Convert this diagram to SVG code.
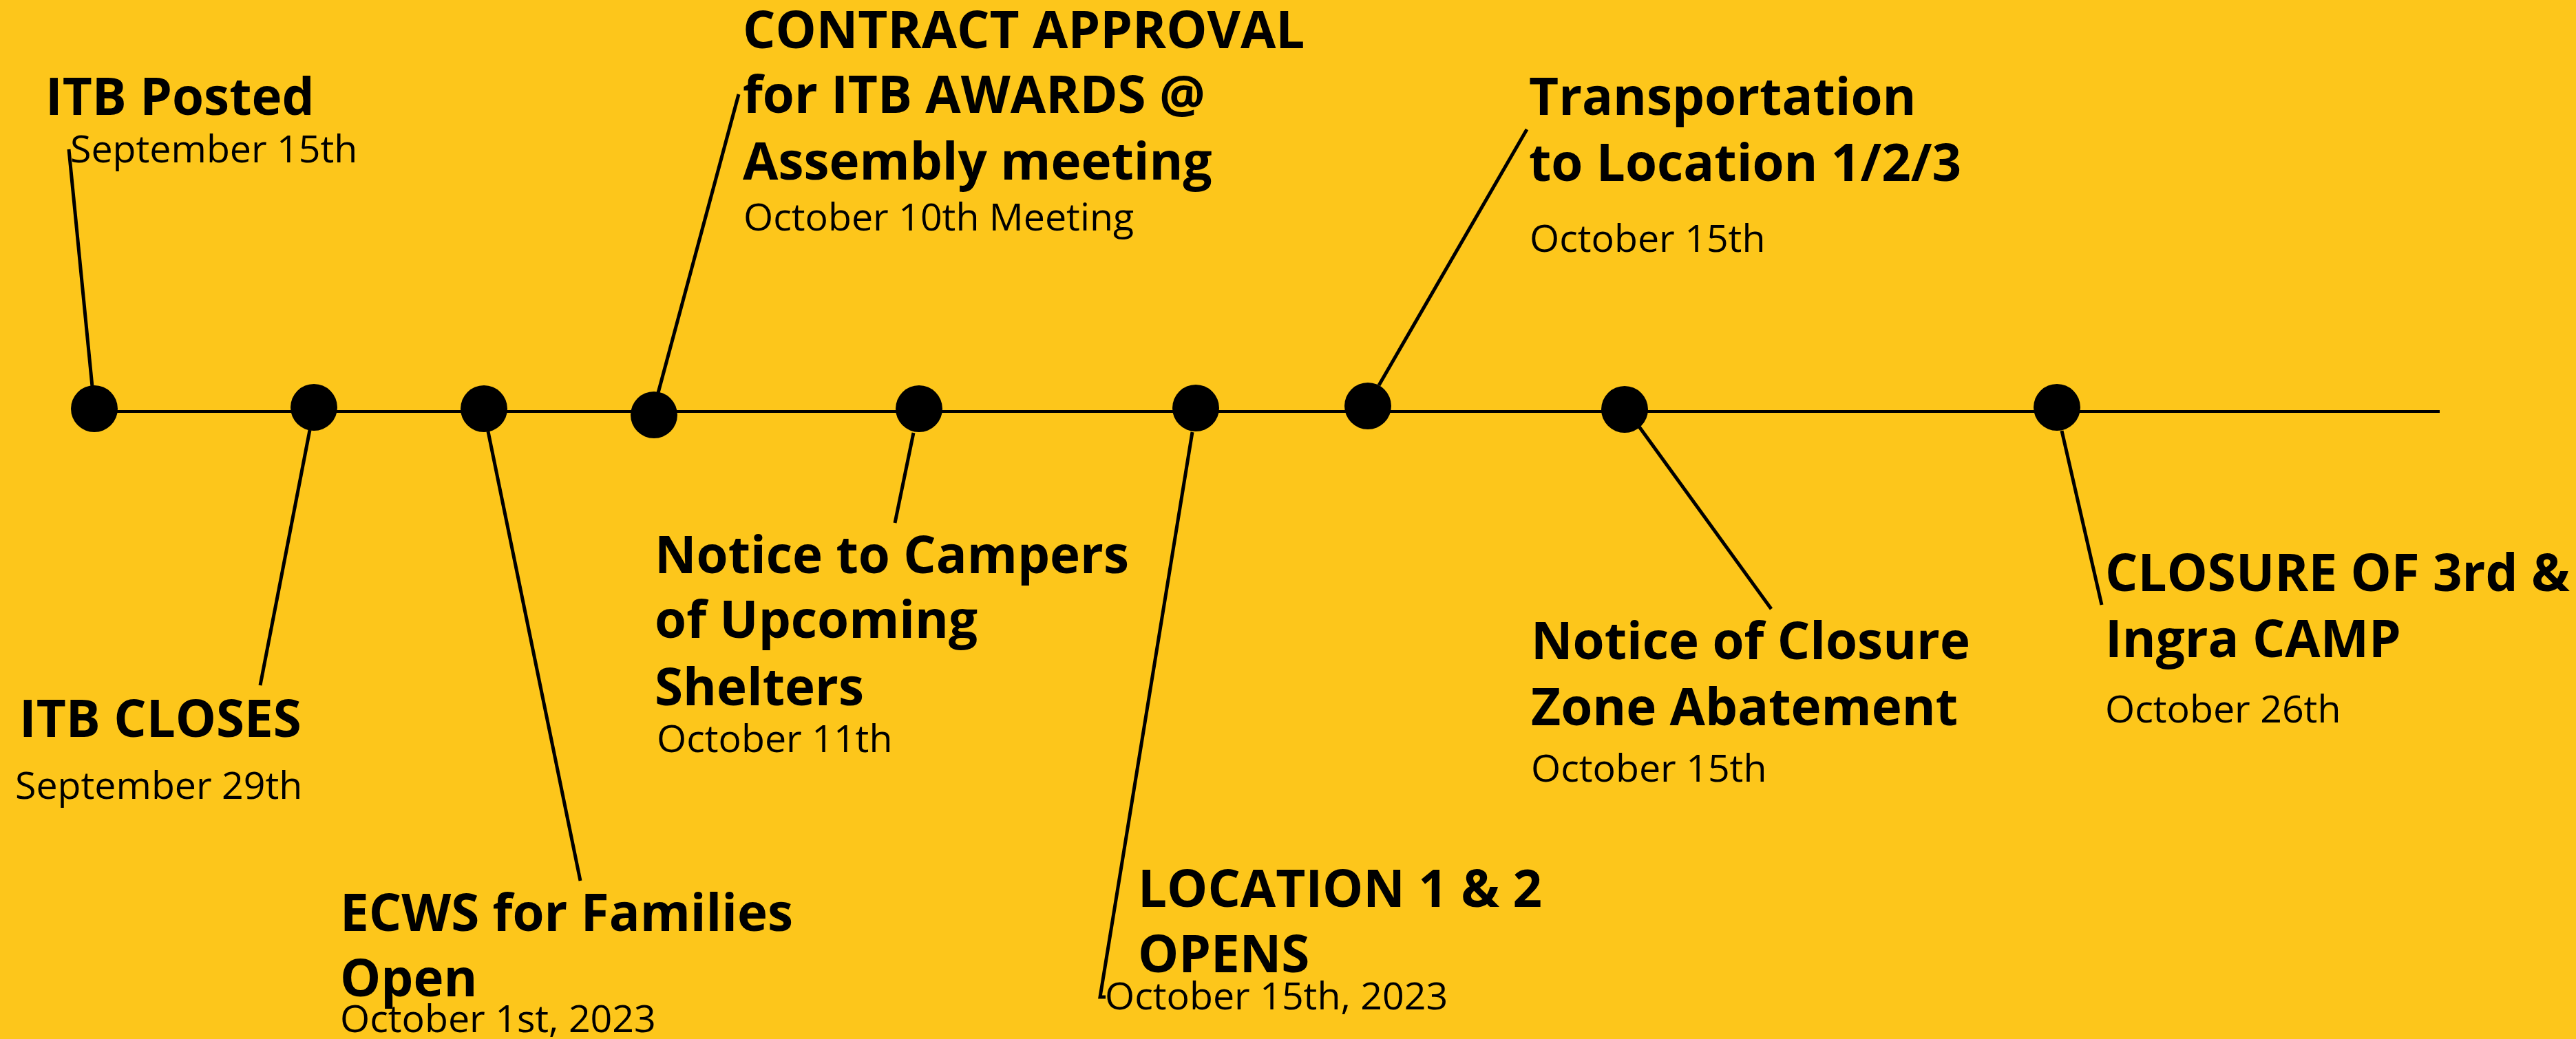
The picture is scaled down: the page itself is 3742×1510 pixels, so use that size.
<svg xmlns="http://www.w3.org/2000/svg" width="3742" height="1510" viewBox="0 0 3742 1510">
<style>
.t{font-family:"Open Sans","Noto Sans","Liberation Sans",sans-serif;font-weight:700;font-size:74.5px;fill:#000}
.d{font-family:"Open Sans","Noto Sans","Liberation Sans",sans-serif;font-weight:400;font-size:55.5px;fill:#000}
.dot{fill:#000}
.ln{stroke:#000;stroke-width:5;fill:none}
</style>
<rect x="0" y="0" width="3742" height="1510" fill="#FDC61B"/>
<g id="connectors">
<line class="ln" x1="137" y1="598" x2="3544" y2="598" style="stroke-width:4"/>
<line class="ln" x1="100" y1="217" x2="134" y2="562"/>
<line class="ln" x1="450" y1="625" x2="378" y2="996"/>
<line class="ln" x1="709" y1="627" x2="843" y2="1280"/>
<line class="ln" x1="956" y1="571" x2="1073" y2="137"/>
<line class="ln" x1="1327" y1="629" x2="1300" y2="760"/>
<polyline class="ln" points="1732,628 1598,1449 1606,1449"/>
<line class="ln" x1="2003" y1="560" x2="2218" y2="188"/>
<line class="ln" x1="2381" y1="620" x2="2573" y2="885"/>
<line class="ln" x1="2995" y1="626" x2="3053" y2="879"/>
</g>
<g id="n1"><circle class="dot" cx="137" cy="594" r="34"/>
<text class="t" x="66" y="167">ITB Posted</text>
<text class="d" x="102" y="236">September 15th</text></g>
<g id="n2"><circle class="dot" cx="456" cy="592" r="34"/>
<text class="t" x="28" y="1071">ITB CLOSES</text>
<text class="d" x="22" y="1161">September 29th</text></g>
<g id="n3"><circle class="dot" cx="703" cy="594" r="34"/>
<text class="t" x="494" y="1353">ECWS for Families</text>
<text class="t" x="494" y="1448">Open</text>
<text class="d" x="494" y="1500">October 1st, 2023</text></g>
<g id="n4"><circle class="dot" cx="950" cy="603" r="34"/>
<text class="t" x="1079" y="70">CONTRACT APPROVAL</text>
<text class="t" x="1079" y="164">for ITB AWARDS @</text>
<text class="t" x="1079" y="261">Assembly meeting</text>
<text class="d" x="1080" y="335">October 10th Meeting</text></g>
<g id="n5"><circle class="dot" cx="1335" cy="594" r="34"/>
<text class="t" x="951" y="833">Notice to Campers</text>
<text class="t" x="951" y="927">of Upcoming</text>
<text class="t" x="951" y="1025">Shelters</text>
<text class="d" x="954" y="1093">October 11th</text></g>
<g id="n6"><circle class="dot" cx="1737" cy="593" r="34"/>
<text class="t" x="1653" y="1318">LOCATION 1 &amp; 2</text>
<text class="t" x="1653" y="1413">OPENS</text>
<text class="d" x="1605" y="1467">October 15th, 2023</text></g>
<g id="n7"><circle class="dot" cx="1987" cy="590" r="34"/>
<text class="t" x="2221" y="167">Transportation</text>
<text class="t" x="2221" y="263">to Location 1/2/3</text>
<text class="d" x="2222" y="366">October 15th</text></g>
<g id="n8"><circle class="dot" cx="2360" cy="595" r="34"/>
<text class="t" x="2224" y="958">Notice of Closure</text>
<text class="t" x="2224" y="1054">Zone Abatement</text>
<text class="d" x="2224" y="1136">October 15th</text></g>
<g id="n9"><circle class="dot" cx="2988" cy="592" r="34"/>
<text class="t" x="3058" y="859">CLOSURE OF 3rd &amp;</text>
<text class="t" x="3058" y="955">Ingra CAMP</text>
<text class="d" x="3058" y="1050">October 26th</text></g>
</svg>
